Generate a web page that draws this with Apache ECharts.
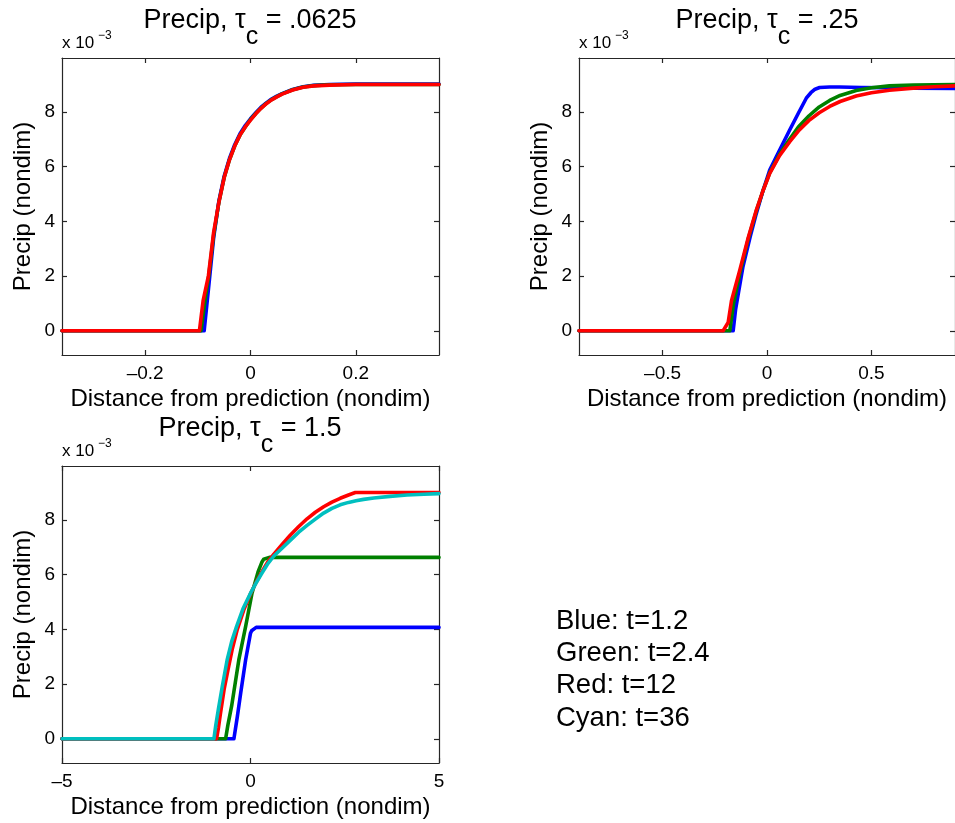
<!DOCTYPE html>
<html>
<head>
<meta charset="utf-8">
<script src="https://cdn.jsdelivr.net/npm/echarts@6/dist/echarts.min.js"></script>
<style>
html,body{margin:0;padding:0;background:#fff;}
#chart{width:955px;height:823px;}
</style>
</head>
<body>
<div id="chart"></div>
<script>
// ---- Data (precip values in units of 1e-3) ----
// Panel 1: tau_c = .0625
const p1_blue_x  = [-0.358, -0.088, -0.08, -0.07, -0.06, -0.05, -0.04, -0.03, -0.02, -0.01, 0, 0.01, 0.02, 0.03, 0.04, 0.05, 0.06, 0.08, 0.1, 0.12, 0.15, 0.2, 0.358];
const p1_blue_y  = [0, 0, 1.5, 3.4, 4.75, 5.65, 6.3, 6.8, 7.2, 7.5, 7.75, 7.97, 8.17, 8.33, 8.47, 8.58, 8.67, 8.82, 8.92, 8.97, 9.0, 9.02, 9.02];
const p1_green_x = [-0.358, -0.094, -0.085, -0.08, -0.07, -0.06, -0.05, -0.04, -0.03, -0.02, -0.01, 0, 0.01, 0.02, 0.03, 0.04, 0.05, 0.06, 0.08, 0.1, 0.12, 0.15, 0.2, 0.358];
const p1_green_y = [0, 0, 1.3, 1.9, 3.5, 4.7, 5.6, 6.25, 6.75, 7.15, 7.45, 7.72, 7.94, 8.14, 8.31, 8.45, 8.56, 8.66, 8.81, 8.91, 8.96, 8.99, 9.0, 9.0];
const p1_red_x   = [-0.358, -0.097, -0.09, -0.08, -0.07, -0.06, -0.05, -0.04, -0.03, -0.02, -0.01, 0, 0.01, 0.02, 0.03, 0.04, 0.05, 0.06, 0.08, 0.1, 0.12, 0.15, 0.2, 0.358];
const p1_red_y   = [0, 0, 1.1, 2.0, 3.6, 4.7, 5.6, 6.25, 6.75, 7.15, 7.45, 7.7, 7.93, 8.13, 8.3, 8.44, 8.55, 8.65, 8.8, 8.9, 8.95, 8.98, 9.0, 9.0];

// Panel 2: tau_c = .25
const p2_blue_x  = [-0.9, -0.162, -0.15, -0.115, -0.08, -0.051, -0.02, 0.013, 0.06, 0.108, 0.15, 0.188, 0.21, 0.23, 0.252, 0.3, 0.347, 0.45, 0.586, 0.7, 0.9];
const p2_blue_y  = [0, 0, 0.8, 2.35, 3.45, 4.29, 5.1, 5.87, 6.6, 7.33, 7.95, 8.5, 8.7, 8.83, 8.89, 8.91, 8.91, 8.89, 8.88, 8.87, 8.86];
const p2_green_x = [-0.9, -0.178, -0.16, -0.13, -0.09, -0.051, -0.02, 0.013, 0.06, 0.108, 0.15, 0.2, 0.25, 0.3, 0.35, 0.427, 0.5, 0.586, 0.7, 0.9];
const p2_green_y = [0, 0, 1.0, 2.1, 3.35, 4.38, 5.1, 5.77, 6.45, 7.0, 7.45, 7.85, 8.18, 8.42, 8.6, 8.78, 8.88, 8.95, 8.98, 9.0];
const p2_red_x   = [-0.9, -0.21, -0.186, -0.17, -0.13, -0.09, -0.051, -0.02, 0.013, 0.06, 0.108, 0.15, 0.2, 0.25, 0.3, 0.35, 0.427, 0.5, 0.586, 0.7, 0.8, 0.9];
const p2_red_y   = [0, 0, 0.3, 1.1, 2.22, 3.4, 4.41, 5.1, 5.75, 6.4, 6.9, 7.3, 7.68, 7.97, 8.2, 8.38, 8.58, 8.7, 8.79, 8.87, 8.92, 8.95];

// Panel 3: tau_c = 1.5
const p3_blue_x  = [-5, -0.44, -0.35, -0.26, -0.13, 0, 0.03, 0.06, 0.15, 5];
const p3_blue_y  = [0, 0, 0.8, 1.67, 2.88, 3.86, 3.95, 4.0, 4.07, 4.07];
const p3_green_x = [-5, -0.66, -0.6, -0.5, -0.31, -0.13, 0.04, 0.2, 0.3, 0.35, 0.4, 0.5, 5];
const p3_green_y = [0, 0, 0.5, 1.2, 2.88, 4.1, 5.32, 6.1, 6.45, 6.56, 6.61, 6.63, 6.63];
const p3_red_x   = [-5, -0.9, -0.85, -0.8, -0.7, -0.6, -0.48, -0.35, -0.18, 0, 0.15, 0.3, 0.45, 0.62, 0.85, 1.06, 1.28, 1.5, 1.72, 1.94, 2.16, 2.38, 2.6, 2.78, 5];
const p3_red_y   = [0, 0, 0.4, 0.9, 1.8, 2.5, 3.3, 4.0, 4.7, 5.3, 5.72, 6.1, 6.45, 6.75, 7.12, 7.45, 7.76, 8.04, 8.28, 8.48, 8.65, 8.79, 8.91, 9.0, 9.0];
const p3_cyan_x  = [-5, -0.97, -0.92, -0.85, -0.75, -0.62, -0.5, -0.37, -0.2, 0, 0.15, 0.3, 0.45, 0.62, 0.85, 1.06, 1.28, 1.5, 1.72, 1.94, 2.16, 2.38, 2.6, 2.8, 3.0, 3.27, 3.7, 4.15, 4.6, 5];
const p3_cyan_y  = [0, 0, 0.5, 1.1, 1.9, 2.88, 3.55, 4.1, 4.75, 5.32, 5.7, 6.05, 6.38, 6.68, 6.98, 7.26, 7.55, 7.8, 8.03, 8.25, 8.42, 8.55, 8.64, 8.7, 8.75, 8.8, 8.86, 8.91, 8.94, 8.96];

// Tick values / labels
const p1_xticks = [-0.2, 0, 0.2];
const p2_xticks = [-0.5, 0, 0.5];
const p3_xticks = [-5, 0, 5];
const yticks = [0, 2, 4, 6, 8];
const titles = ['.0625', '.25', '1.5'];
const legendLines = ['Blue: t=1.2', 'Green: t=2.4', 'Red: t=12', 'Cyan: t=36'];
const xName = 'Distance from prediction (nondim)';
const yName = 'Precip (nondim)';

// ---- Build ----
const FONT = 'Liberation Sans, Arial, Helvetica, sans-serif';
const COLORS = {blue: '#0000ff', green: '#008000', red: '#ff0000', cyan: '#00bfbf'};
const AXC = '#262626';

function zip(xs, ys) { return xs.map((x, i) => [x, ys[i]]); }
function fmt(v) { return v < 0 ? '\u2013' + String(-v) : String(v); }

const panels = [
  {grid: {left: 62, top: 58, width: 377, height: 297}, xmin: -0.358, xmax: 0.358, xticks: p1_xticks,
   series: [['blue', p1_blue_x, p1_blue_y], ['green', p1_green_x, p1_green_y], ['red', p1_red_x, p1_red_y]]},
  {grid: {left: 579, top: 58, width: 377, height: 297}, xmin: -0.9, xmax: 0.9, xticks: p2_xticks,
   series: [['blue', p2_blue_x, p2_blue_y], ['green', p2_green_x, p2_green_y], ['red', p2_red_x, p2_red_y]]},
  {grid: {left: 62, top: 466, width: 377, height: 297}, xmin: -5, xmax: 5, xticks: p3_xticks,
   series: [['blue', p3_blue_x, p3_blue_y], ['green', p3_green_x, p3_green_y], ['red', p3_red_x, p3_red_y], ['cyan', p3_cyan_x, p3_cyan_y]]}
];
const YMIN = -0.886, YMAX = 9.97;

const grid = [], xAxis = [], yAxis = [], series = [];
panels.forEach((p, gi) => {
  grid.push(Object.assign({containLabel: false}, p.grid));
  const lineStyle = {color: AXC, width: 1.2};
  xAxis.push({type: 'value', gridIndex: gi, min: p.xmin, max: p.xmax, position: 'bottom',
    name: xName, nameLocation: 'middle', nameGap: 32,
    nameTextStyle: {fontSize: 24, color: '#000', fontFamily: FONT},
    axisLine: {show: true, onZero: false, lineStyle},
    axisTick: {show: true, inside: true, length: 5, customValues: p.xticks, lineStyle},
    axisLabel: {show: true, customValues: p.xticks, formatter: fmt, fontSize: 19, color: '#000', fontFamily: FONT, margin: 9},
    splitLine: {show: false}});
  xAxis.push({type: 'value', gridIndex: gi, min: p.xmin, max: p.xmax, position: 'top',
    axisLine: {show: true, onZero: false, lineStyle},
    axisTick: {show: true, inside: true, length: 5, customValues: p.xticks, lineStyle},
    axisLabel: {show: false}, splitLine: {show: false}});
  yAxis.push({type: 'value', gridIndex: gi, min: YMIN, max: YMAX, position: 'left',
    name: yName, nameLocation: 'middle', nameGap: 27,
    nameTextStyle: {fontSize: 24, color: '#000', fontFamily: FONT},
    axisLine: {show: true, onZero: false, lineStyle},
    axisTick: {show: true, inside: true, length: 5, customValues: yticks, lineStyle},
    axisLabel: {show: true, customValues: yticks, formatter: fmt, fontSize: 19, color: '#000', fontFamily: FONT, margin: 7},
    splitLine: {show: false}});
  yAxis.push({type: 'value', gridIndex: gi, min: YMIN, max: YMAX, position: 'right',
    axisLine: {show: true, onZero: false, lineStyle},
    axisTick: {show: true, inside: true, length: 5, customValues: yticks, lineStyle},
    axisLabel: {show: false}, splitLine: {show: false}});
  p.series.forEach(([c, xs, ys]) => {
    series.push({type: 'line', xAxisIndex: gi * 2, yAxisIndex: gi * 2, data: zip(xs, ys),
      showSymbol: false, symbol: 'none', smooth: false, animation: false,
      lineStyle: {color: COLORS[c], width: 3.6, join: 'round', cap: 'round'}, itemStyle: {color: COLORS[c]}});
  });
});

const graphic = [];
const titlePos = [[250, 7], [767, 7], [250, 415]];
titles.forEach((t, i) => {
  graphic.push({type: 'text', x: titlePos[i][0], y: titlePos[i][1],
    style: {text: '{a|Precip, \u03c4}{s|c}{a| = ' + t + '}', align: 'center', verticalAlign: 'top',
      rich: {
        a: {fontSize: 27, fontFamily: FONT, fill: '#000', lineHeight: 30, verticalAlign: 'top'},
        s: {fontSize: 25, fontFamily: FONT, fill: '#000', lineHeight: 60, verticalAlign: 'middle'}
      }}});
});
const multPos = [[62, 58], [579, 58], [62, 466]];
multPos.forEach(([x, y]) => {
  graphic.push({type: 'text', x: x, y: y - 6,
    style: {text: 'x 10', fontSize: 17, fontFamily: FONT, fill: '#000', align: 'left', verticalAlign: 'bottom'}});
  graphic.push({type: 'text', x: x + 36, y: y - 16,
    style: {text: '\u22123', fontSize: 12, fontFamily: FONT, fill: '#000', align: 'left', verticalAlign: 'bottom'}});
});
graphic.push({type: 'text', x: 556, y: 605,
  style: {text: legendLines.join('\n'), fontSize: 27.5, lineHeight: 32.3, fontFamily: FONT, fill: '#000', align: 'left', verticalAlign: 'top'}});

const chart = echarts.init(document.getElementById('chart'), null, {renderer: 'canvas'});
chart.setOption({animation: false, backgroundColor: '#fff', grid, xAxis, yAxis, series, graphic});
</script>
</body>
</html>
